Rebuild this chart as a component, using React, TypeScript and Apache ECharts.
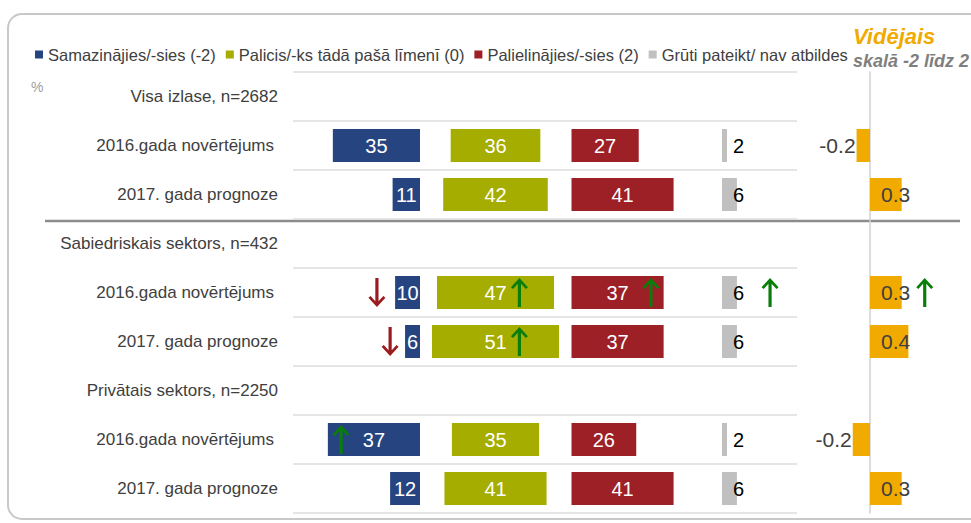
import React, { useEffect, useRef } from "react";
import * as echarts from "echarts";

const FONT = '"Liberation Sans", Arial, sans-serif';

// ---- data ----
const rowLabels = [
  "Visa izlase, n=2682",
  "2016.gada novērtējums",
  "2017. gada prognoze",
  "Sabiedriskais sektors, n=432",
  "2016.gada novērtējums",
  "2017. gada prognoze",
  "Privātais sektors, n=2250",
  "2016.gada novērtējums",
  "2017. gada prognoze",
];
const legendNames = [
  "Samazinājies/-sies (-2)",
  "Palicis/-ks tādā pašā līmenī (0)",
  "Palielinājies/-sies (2)",
  "Grūti pateikt/ nav atbildes",
];
const decreased = [null, 35, 11, null, 10, 6, null, 37, 12];
const same = [null, 36, 42, null, 47, 51, null, 35, 41];
const increased = [null, 27, 41, null, 37, 37, null, 26, 41];
const hardToSay = [null, 2, 6, null, 6, 6, null, 2, 6];
const averageValues = [null, -0.14, 0.33, null, 0.33, 0.4, null, -0.18, 0.33];
const averageLabels = ["", "-0.2", "0.3", "", "0.3", "0.4", "", "-0.2", "0.3"];
const avgTitle = "Vidējais";
const avgSubtitle = "skalā -2 līdz 2";
const unitText = "%";
// change arrows: row index, column (0 blue,1 green,2 red,3 gray,4 average), x in that column's scale, direction
const arrows = [
  { row: 4, col: 0, x: 17.3, dir: "down" },
  { row: 5, col: 0, x: 12, dir: "down" },
  { row: 7, col: 0, x: 31.7, dir: "up" },
  { row: 4, col: 1, x: 39.6, dir: "up" },
  { row: 5, col: 1, x: 39.6, dir: "up" },
  { row: 4, col: 2, x: 31.9, dir: "up" },
  { row: 4, col: 3, x: 19.3, dir: "up" },
  { row: 4, col: 4, x: 0.57, dir: "up" },
];

const COLORS = {
  blue: "#264480",
  green: "#a5ad00",
  red: "#9c2026",
  gray: "#c0c0c0",
  avg: "#f0aa00",
  up: "#0a7d0a",
  down: "#9b1b1f",
};

const ARROW = "path://M8,0 L16,9.5 L14,11.5 L9.5,6 L9.5,30 L6.5,30 L6.5,6 L2,11.5 L0,9.5 Z";

function buildOption() {
  const top = 72;
  const bottom = 10;
  const gridDefs = [
    { left: 293, width: 504 }, // background rows
    { left: 293, width: 127 }, // decreased (right aligned)
    { left: 420.8, width: 149.4 }, // same (centered)
    { left: 571.5, width: 149.4 }, // increased
    { left: 722, width: 74.7 }, // hard to say
    { left: 822, width: 144 }, // average
  ];
  const grid = gridDefs.map((g) => ({ ...g, top, bottom, containLabel: false }));

  const xAxis: any[] = [
    { gridIndex: 0, type: "value", min: 0, max: 1, show: false },
    { gridIndex: 1, type: "value", min: 0, max: 51, inverse: true, show: false },
    { gridIndex: 2, type: "value", min: 0, max: 60, show: false },
    { gridIndex: 3, type: "value", min: 0, max: 60, show: false },
    { gridIndex: 4, type: "value", min: 0, max: 30, show: false },
    { gridIndex: 5, type: "value", min: -0.5, max: 1.0, show: false },
  ];

  const catData = rowLabels.map((l, i) => ({
    value: String(i),
    textStyle: l.startsWith("2016") ? { padding: [0, 4, 0, 0] } : {},
  }));

  const yAxis: any[] = gridDefs.map((_, gi) => ({
    gridIndex: gi,
    type: "category",
    inverse: true,
    data: gi === 0 ? catData : rowLabels.map((_, i) => String(i)),
    axisTick: { show: false },
    axisLine:
      gi === 5
        ? { show: true, onZero: true, lineStyle: { color: "#d0d0d0", width: 1.5 } }
        : { show: false },
    axisLabel:
      gi === 0
        ? {
            show: true,
            interval: 0,
            margin: 15,
            fontSize: 17,
            fontFamily: FONT,
            color: "#404040",
            formatter: (v: string) => rowLabels[Number(v)],
          }
        : { show: false },
    splitLine:
      gi === 0
        ? { show: true, interval: 0, lineStyle: { color: "#dcdcdc", width: 1.5 } }
        : { show: false },
  }));

  const barLabel = {
    show: true,
    position: "inside",
    color: "#ffffff",
    fontSize: 20,
    fontFamily: FONT,
  };
  const BW = 33;

  const series: any[] = [
    {
      name: legendNames[0],
      type: "bar",
      xAxisIndex: 1,
      yAxisIndex: 1,
      barWidth: BW,
      data: decreased,
      itemStyle: { color: COLORS.blue },
      label: barLabel,
    },
    {
      name: "_spacer",
      type: "bar",
      xAxisIndex: 2,
      yAxisIndex: 2,
      stack: "same",
      barWidth: BW,
      silent: true,
      data: same.map((v) => (v == null ? null : (60 - v) / 2)),
      itemStyle: { color: "rgba(0,0,0,0)" },
    },
    {
      name: legendNames[1],
      type: "bar",
      xAxisIndex: 2,
      yAxisIndex: 2,
      stack: "same",
      barWidth: BW,
      data: same,
      itemStyle: { color: COLORS.green },
      label: barLabel,
    },
    {
      name: legendNames[2],
      type: "bar",
      xAxisIndex: 3,
      yAxisIndex: 3,
      barWidth: BW,
      data: increased,
      itemStyle: { color: COLORS.red },
      label: barLabel,
    },
    {
      name: legendNames[3],
      type: "bar",
      xAxisIndex: 4,
      yAxisIndex: 4,
      barWidth: BW,
      data: hardToSay,
      itemStyle: { color: COLORS.gray },
      label: {
        show: true,
        position: "insideLeft",
        distance: 11,
        color: "#000000",
        fontSize: 20,
        fontFamily: FONT,
      },
    },
    {
      name: "_avg",
      type: "bar",
      xAxisIndex: 5,
      yAxisIndex: 5,
      barWidth: BW,
      itemStyle: { color: COLORS.avg },
      data: averageValues.map((v, i) =>
        v == null
          ? null
          : {
              value: v,
              label: {
                show: true,
                position: v < 0 ? "left" : "insideLeft",
                distance: v < 0 ? 1 : 11,
                formatter: averageLabels[i],
                color: "#404040",
                fontSize: 21,
                fontFamily: FONT,
              },
            }
      ),
    },
  ];

  arrows.forEach((a, i) => {
    series.push({
      name: "_arrow" + i,
      type: "scatter",
      xAxisIndex: a.col + 1,
      yAxisIndex: a.col + 1,
      symbol: ARROW,
      symbolSize: [17, 29],
      symbolRotate: a.dir === "down" ? 180 : 0,
      z: 10,
      silent: true,
      itemStyle: { color: a.dir === "down" ? COLORS.down : COLORS.up, opacity: 1 },
      data: [[a.x, a.row]],
    });
  });

  return {
    animation: false,
    backgroundColor: "#ffffff",
    textStyle: { fontFamily: FONT },
    grid,
    xAxis,
    yAxis,
    legend: {
      data: legendNames,
      left: 30,
      top: 41,
      icon: "rect",
      itemWidth: 8,
      itemHeight: 8,
      itemGap: 10,
      selectedMode: false,
      textStyle: { fontSize: 16.5, color: "#404040", fontFamily: FONT },
    },
    graphic: [
      {
        type: "rect",
        shape: { x: 8, y: 14, width: 990, height: 505, r: 14 },
        style: { fill: "none", stroke: "#c8c8c8", lineWidth: 2 },
        silent: true,
      },
      {
        type: "line",
        shape: { x1: 45, y1: 221, x2: 960, y2: 221 },
        style: { stroke: "#8c8c8c", lineWidth: 2.5 },
        silent: true,
      },
      {
        type: "text",
        x: 31,
        y: 87,
        style: {
          text: unitText,
          fill: "#a0a0a0",
          fontSize: 14,
          fontFamily: FONT,
          verticalAlign: "middle",
        },
      },
      {
        type: "text",
        x: 853,
        y: 36,
        style: {
          text: avgTitle,
          fill: COLORS.avg,
          fontSize: 22,
          fontWeight: "bold",
          fontStyle: "italic",
          fontFamily: FONT,
          verticalAlign: "middle",
        },
      },
      {
        type: "text",
        x: 853,
        y: 61,
        style: {
          text: avgSubtitle,
          fill: "#7f7f7f",
          fontSize: 18,
          fontWeight: "bold",
          fontStyle: "italic",
          fontFamily: FONT,
          verticalAlign: "middle",
        },
      },
    ],
    series,
  };
}

export default function App() {
  const ref = useRef<HTMLDivElement>(null);
  useEffect(() => {
    if (!ref.current) return;
    const chart = echarts.init(ref.current, null, { renderer: "svg" });
    chart.setOption(buildOption() as any);
    return () => chart.dispose();
  }, []);
  return (
    <div
      ref={ref}
      style={{ position: "fixed", left: 0, top: 0, width: 971, height: 523, background: "#fff" }}
    />
  );
}
